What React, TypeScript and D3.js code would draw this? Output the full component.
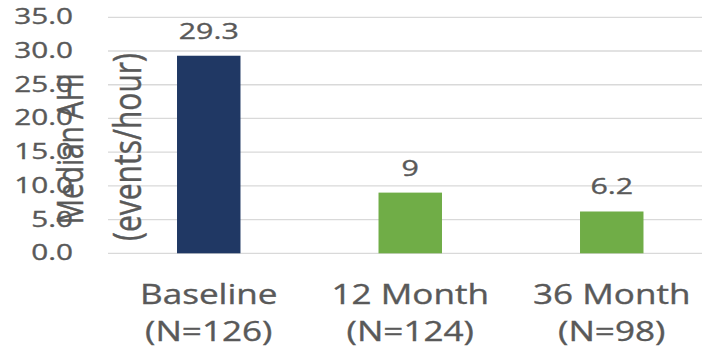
import React from "react";
import * as d3 from "d3";

const categories = ["Baseline", "12 Month", "36 Month"];
const sampleSizes = ["(N=126)", "(N=124)", "(N=98)"];
const medianAHI = [29.3, 9, 6.2];
const valueLabels = ["29.3", "9", "6.2"];
const barColors = ["#203864", "#70AD47", "#70AD47"];
const yTicks = [0, 5, 10, 15, 20, 25, 30, 35];
const yTitleLines = ["Median AHI", "(events/hour)"];

const W = 702;
const H = 348;
const FONT = "'Open Sans', 'DejaVu Sans', sans-serif";
const TEXT = "#595959";
const GRID = "#d9d9d9";

// Text drawn wider than its natural glyphs (sx along screen x)
function WideText(props: {
  x: number;
  y: number;
  sx: number;
  size: number;
  anchor: "start" | "middle" | "end";
  rotate?: number;
  children: React.ReactNode;
}) {
  const { x, y, sx, size, anchor, rotate = 0, children } = props;
  return (
    <text
      transform={`translate(${x},${y}) scale(${sx},1) rotate(${rotate})`}
      fontFamily={FONT}
      fontSize={size}
      fill={TEXT}
      stroke={TEXT}
      strokeWidth={0.35}
      textAnchor={anchor}
    >
      {children}
    </text>
  );
}

export default function App() {
  const x = d3
    .scaleBand<string>()
    .domain(categories)
    .range([108, 712.5])
    .paddingInner(0.685)
    .paddingOuter(0.3425);
  const y = d3.scaleLinear().domain([0, 35]).range([253.3, 17.3]);

  return (
    <svg
      width={W}
      height={H}
      style={{ position: "absolute", left: 0, top: 0, background: "#fff" }}
    >
      {/* horizontal gridlines */}
      {yTicks.map((t) => (
        <line
          key={`g${t}`}
          x1={108}
          x2={W}
          y1={y(t)}
          y2={y(t)}
          stroke={GRID}
          strokeWidth={1.3}
        />
      ))}

      {/* y tick labels */}
      {yTicks.map((t) => (
        <WideText key={`t${t}`} x={73} y={y(t) + 7} sx={1.35} size={22} anchor="end">
          {d3.format(".1f")(t)}
        </WideText>
      ))}

      {/* y axis title, two rotated lines */}
      <WideText x={83} y={148.5} sx={1.3} size={28} anchor="middle" rotate={-90}>
        {yTitleLines[0]}
      </WideText>
      <WideText x={141} y={147} sx={1.3} size={30} anchor="middle" rotate={-90}>
        {yTitleLines[1]}
      </WideText>

      {/* bars */}
      {categories.map((c, i) => (
        <rect
          key={`b${c}`}
          x={x(c)}
          y={y(medianAHI[i])}
          width={x.bandwidth()}
          height={y(0) - y(medianAHI[i])}
          fill={barColors[i]}
        />
      ))}

      {/* value labels */}
      {categories.map((c, i) => (
        <WideText
          key={`v${c}`}
          x={(x(c) as number) + x.bandwidth() / 2}
          y={y(medianAHI[i]) - 17}
          sx={1.38}
          size={22}
          anchor="middle"
        >
          {valueLabels[i]}
        </WideText>
      ))}

      {/* category axis labels */}
      {categories.map((c, i) => {
        const cx = (x(c) as number) + x.bandwidth() / 2;
        return (
          <g key={`c${c}`}>
            <WideText x={cx} y={304} sx={1.3} size={27} anchor="middle">
              {c}
            </WideText>
            <WideText x={cx} y={340.5} sx={1.3} size={27} anchor="middle">
              {sampleSizes[i]}
            </WideText>
          </g>
        );
      })}
    </svg>
  );
}
